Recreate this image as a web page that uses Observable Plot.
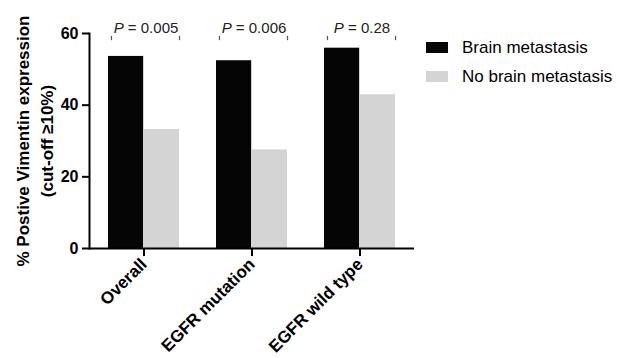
<!DOCTYPE html>
<html>
<head>
<meta charset="utf-8">
<script src="https://cdn.jsdelivr.net/npm/d3@7"></script>
<script src="https://cdn.jsdelivr.net/npm/@observablehq/plot@0.6"></script>
<style>
  html, body { margin: 0; padding: 0; background: white; }
  #wrap { position: relative; width: 617px; height: 358px; font-family: "Liberation Sans", Arial, sans-serif; }
  #legend { position: absolute; left: 426px; top: 33px; }
  .item { display: flex; align-items: center; height: 29px; font-size: 17px; color: #000; white-space: nowrap; }
  .sw { width: 22px; height: 11px; margin-right: 14px; }
</style>
</head>
<body>
<div id="wrap"><div id="legend"></div></div>
<script>
const categories = ["Overall", "EGFR mutation", "EGFR wild type"];
const brainMet = [53.6, 52.4, 55.9];
const noBrainMet = [33.2, 27.5, 42.9];
const pLabels = ["P = 0.005", "P = 0.006", "P = 0.28"];
const yTicks = [0, 20, 40, 60];
const seriesNames = ["Brain metastasis", "No brain metastasis"];
const seriesColors = ["#050505", "#d4d4d4"];
const bracketY = 58.6;
const labelY = 61.4;

const data = categories.map((c, i) => ({category: c, brain: brainMet[i], noBrain: noBrainMet[i], p: pLabels[i]}));

const W = 617, H = 358, mL = 89, mR = 203, mT = 33, mB = 110;
const pInner = 0.344, pOuter = 0.172;
const step = (W - mL - mR) / (categories.length - pInner + 2 * pOuter);
const bw = step * (1 - pInner);
const half = bw / 2;

const chart = Plot.plot({
  width: W, height: H,
  marginLeft: mL, marginRight: mR, marginTop: mT, marginBottom: mB,
  style: {fontFamily: "'Liberation Sans', Arial, sans-serif", color: "black", background: "white"},
  x: {type: "band", domain: categories, paddingInner: pInner, paddingOuter: pOuter},
  y: {domain: [0, 60]},
  marks: [
    Plot.barY(data, {x: "category", y: "brain", fill: seriesColors[0], insetRight: half + 0.3}),
    Plot.barY(data, {x: "category", y: "noBrain", fill: seriesColors[1], insetLeft: half + 0.3}),
    Plot.ruleY(data, {x: "category", y: () => bracketY, stroke: "#555", strokeWidth: 1.2, insetLeft: 3}),
    Plot.ruleX(data, {x: "category", y1: () => bracketY - 0.6, y2: () => bracketY + 0.6, dx: -half + 3, stroke: "#555", strokeWidth: 1.2}),
    Plot.ruleX(data, {x: "category", y1: () => bracketY - 0.6, y2: () => bracketY + 0.6, dx: half, stroke: "#555", strokeWidth: 1.2}),
    Plot.text(data, {x: "category", y: () => labelY, text: "p", fontSize: 15, fill: "#222", dx: 2}),
    Plot.ruleY([0], {strokeWidth: 2}),
    Plot.frame({anchor: "left", strokeWidth: 2}),
    Plot.axisY({ticks: yTicks, tickSize: 7, tickPadding: 4, fontSize: 16, fontWeight: "bold", label: null, strokeWidth: 2}),
    Plot.axisX({tickRotate: -45, tickSize: 8, tickPadding: 5, fontSize: 17, fontWeight: "bold", label: null, strokeWidth: 2}),
    Plot.text(["% Postive Vimentin expression\n(cut-off ≥10%)"], {frameAnchor: "left", text: d => d, rotate: -90, dx: -56, fontSize: 17, fontWeight: "bold", lineHeight: 1.42, lineAnchor: "middle", textAnchor: "middle"})
  ]
});

d3.select(chart).selectAll("text").filter(function() {
  return pLabels.includes(this.textContent);
}).each(function() {
  const t = this.textContent;
  while (this.firstChild) this.removeChild(this.firstChild);
  const s = d3.select(this);
  s.append("tspan").attr("font-style", "italic").style("font-style", "italic").text(t.slice(0, 1));
  s.append("tspan").text(t.slice(1));
});

document.getElementById("wrap").prepend(chart);
chart.style.position = "absolute";
chart.style.left = "0";
chart.style.top = "0";

const legend = d3.select("#legend");
seriesNames.forEach((n, i) => {
  const it = legend.append("div").attr("class", "item");
  it.append("div").attr("class", "sw").style("background", seriesColors[i]);
  it.append("span").text(n);
});
</script>
</body>
</html>
